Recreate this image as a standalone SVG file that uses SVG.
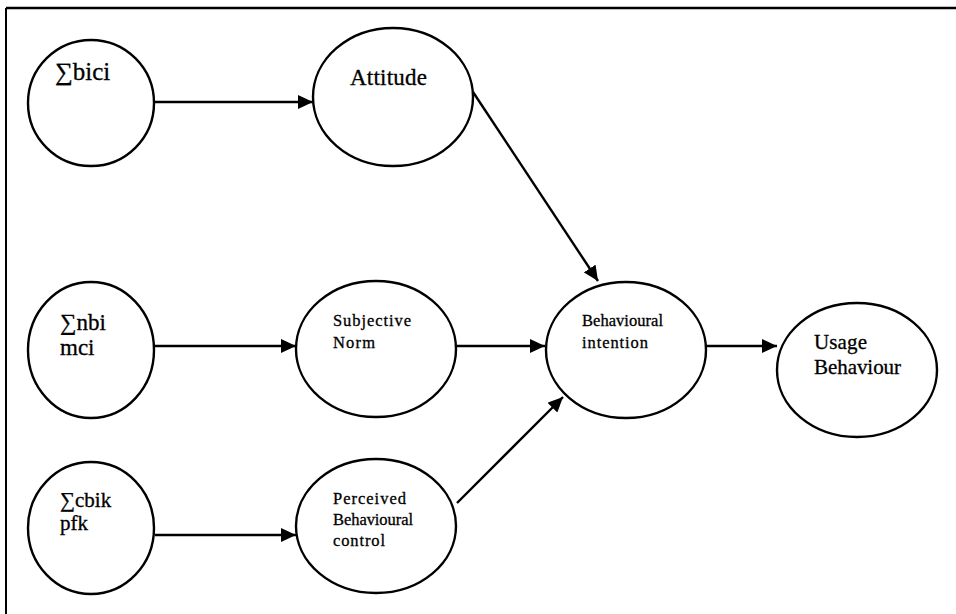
<svg xmlns="http://www.w3.org/2000/svg" width="956" height="614" viewBox="0 0 956 614">
<defs>
<style>
.node{fill:#fff;stroke:#000;stroke-width:2.4}
.edge{stroke:#000;stroke-width:2.4;fill:none}
.t{font-family:"Liberation Serif","Times New Roman",serif;fill:#000;stroke:#000;stroke-width:0.3}
.lg{font-size:23px}
.md{font-size:21px}
.sm{font-size:16.5px}
</style>
<marker id="ah" markerUnits="userSpaceOnUse" markerWidth="16" markerHeight="14" refX="15" refY="7" orient="auto">
<path d="M0,0 L15,7 L0,14 Z" fill="#000"/>
</marker>
</defs>
<rect x="0" y="0" width="956" height="614" fill="#fff"/>
<g id="frame">
<line x1="6" y1="8" x2="956" y2="8" stroke="#000" stroke-width="2.5"/>
<line x1="6" y1="8" x2="6" y2="614" stroke="#000" stroke-width="2"/>
</g>
<g id="connectors">
<line class="edge" x1="154" y1="102" x2="313" y2="102" marker-end="url(#ah)"/>
<line class="edge" x1="155" y1="346" x2="296" y2="346" marker-end="url(#ah)"/>
<line class="edge" x1="155" y1="535" x2="296" y2="535" marker-end="url(#ah)"/>
<line class="edge" x1="473" y1="92" x2="598" y2="281" marker-end="url(#ah)"/>
<line class="edge" x1="457" y1="346" x2="545" y2="346" marker-end="url(#ah)"/>
<line class="edge" x1="457" y1="503" x2="563" y2="397" marker-end="url(#ah)"/>
<line class="edge" x1="706" y1="346" x2="777" y2="346" marker-end="url(#ah)"/>
</g>
<g id="bici">
<ellipse class="node" cx="91" cy="103" rx="63" ry="63"/>
<text class="t" x="55" y="80" font-size="25">∑bici</text>
</g>
<g id="attitude">
<ellipse class="node" cx="393" cy="97" rx="80" ry="69"/>
<text class="t lg" x="350" y="85" textLength="77">Attitude</text>
</g>
<g id="nbimci">
<ellipse class="node" cx="91" cy="350" rx="63" ry="68"/>
<text class="t lg" x="60" y="330">∑nbi</text>
<text class="t lg" x="60" y="355">mci</text>
</g>
<g id="subjnorm">
<ellipse class="node" cx="376" cy="349" rx="80" ry="68"/>
<text class="t sm" x="333" y="326" textLength="78">Subjective</text>
<text class="t sm" x="333" y="348" textLength="42">Norm</text>
</g>
<g id="cbikpfk">
<ellipse class="node" cx="91" cy="528" rx="63" ry="66"/>
<text class="t md" x="60" y="507">∑cbik</text>
<text class="t md" x="60" y="530">pfk</text>
</g>
<g id="pbc">
<ellipse class="node" cx="376" cy="526" rx="80" ry="67"/>
<text class="t sm" x="333" y="504" textLength="73">Perceived</text>
<text class="t sm" x="333" y="525" textLength="80">Behavioural</text>
<text class="t sm" x="333" y="546" textLength="52">control</text>
</g>
<g id="bi">
<ellipse class="node" cx="626" cy="350" rx="80" ry="68"/>
<text class="t sm" x="582" y="326" textLength="81">Behavioural</text>
<text class="t sm" x="582" y="348" textLength="66">intention</text>
</g>
<g id="usage">
<ellipse class="node" cx="857" cy="370" rx="80" ry="67"/>
<text class="t md" x="814" y="349" textLength="53">Usage</text>
<text class="t md" x="814" y="374" textLength="87">Behaviour</text>
</g>
</svg>
